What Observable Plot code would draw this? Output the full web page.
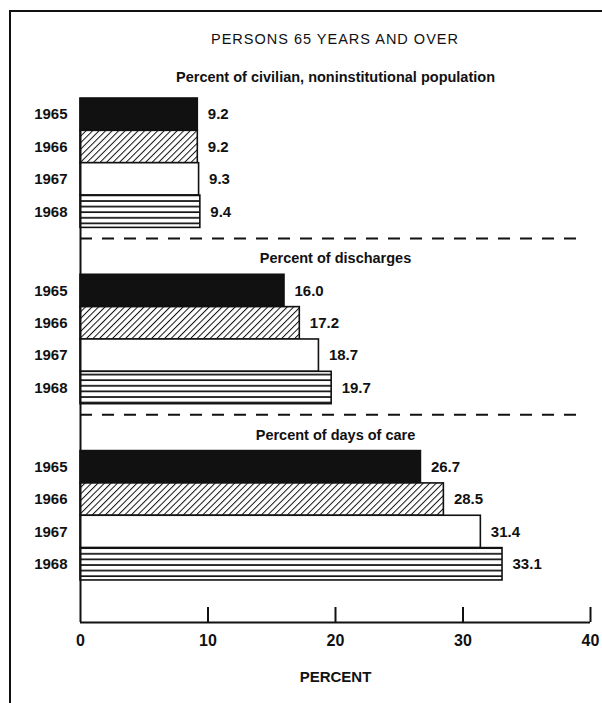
<!DOCTYPE html>
<html>
<head>
<meta charset="utf-8">
<script src="https://cdn.jsdelivr.net/npm/d3@7"></script>
<script src="https://cdn.jsdelivr.net/npm/@observablehq/plot@0.6"></script>
<style>
  html, body { margin: 0; padding: 0; background: #fff; }
  body { width: 602px; height: 703px; overflow: hidden; position: relative; font-family: "Liberation Sans", Arial, sans-serif; }
  #frame { position: absolute; left: 9px; top: 10px; width: 600px; height: 700px; border-left: 2px solid #111; border-top: 2px solid #111; pointer-events: none; }
  #title { position: absolute; left: 0; top: 31px; width: 602px; text-align: center; font-size: 14.5px; font-weight: normal; color: #111; text-indent: 68px; letter-spacing: 1px; }
  #chart { position: absolute; left: 0; top: 60px; }
</style>
</head>
<body>
<div id="frame"></div>
<div id="title">PERSONS 65 YEARS AND OVER</div>
<div id="chart"></div>
<script>
// ---- data ----
const groups = [
  "Percent of civilian, noninstitutional population",
  "Percent of discharges",
  "Percent of days of care"
];
const years = ["1965", "1966", "1967", "1968"];
const civilianValues = [9.2, 9.2, 9.3, 9.4];
const dischargeValues = [16.0, 17.2, 18.7, 19.7];
const daysOfCareValues = [26.7, 28.5, 31.4, 33.1];
const xTicks = [0, 10, 20, 30, 40];
const xLabel = "PERCENT";

// ---- layout helpers (row units) ----
const groupGap = 1.45;
const groupTop = g => g * (years.length + groupGap);
const series = [civilianValues, dischargeValues, daysOfCareValues];
const rows = [];
series.forEach((vals, g) => vals.forEach((v, i) => rows.push({
  group: groups[g], year: years[i], value: v,
  y1: groupTop(g) + i, y2: groupTop(g) + i + 1, yc: groupTop(g) + i + 0.5
})));
const subtitles = groups.map((name, g) => ({name, y: groupTop(g) - (g === 0 ? 0.17 : 0)}));
const separators = [0, 1].map(g => ({y: groupTop(g) + years.length + 0.33}));
const bottom = 16.2;

const W = 602, H = 643, mTop = 38, mBottom = 81;

const plot = Plot.plot({
  width: W, height: H,
  marginLeft: 80, marginRight: 12, marginTop: mTop, marginBottom: mBottom,
  style: {fontFamily: "Liberation Sans, Arial, sans-serif", background: "transparent", color: "#111"},
  x: {domain: [0, 40], ticks: xTicks, tickSize: 0, tickPadding: 12, label: null, tickFormat: d => d},
  y: {domain: [0, bottom], reverse: true, axis: null},
  color: {type: "ordinal", domain: years, range: ["#111", "url(#hatch)", "#fff", "url(#hlines)"]},
  marks: [
    Plot.rectX(rows, {x1: 0, x2: "value", y1: "y1", y2: "y2", fill: "year", stroke: "#111", strokeWidth: 1.6}),
    Plot.text(rows, {x: "value", y: "yc", text: d => d.value.toFixed(1), textAnchor: "start", dx: 10, fontSize: 15, fontWeight: "bold"}),
    Plot.text(rows, {x: 0, y: "yc", text: "year", textAnchor: "end", dx: -13, fontSize: 15, fontWeight: "bold"}),
    Plot.text(subtitles, {y: "y", text: "name", frameAnchor: "middle", dx: 0, dy: -16, fontSize: 14.5, fontWeight: "bold"}),
    Plot.ruleY(separators, {y: "y", x1: 0, x2: 39, stroke: "#111", strokeWidth: 2, strokeDasharray: "12,10"}),
    Plot.ruleX([0], {y1: 0, y2: bottom, stroke: "#111", strokeWidth: 2}),
    Plot.ruleY([bottom], {stroke: "#111", strokeWidth: 2}),
    Plot.ruleX(xTicks.slice(1), {y1: bottom, y2: bottom - 15 / 32.35, stroke: "#111", strokeWidth: 2}),
    Plot.text([xLabel], {text: d => d, frameAnchor: "bottom", dy: 59, fontSize: 15, fontWeight: "bold"})
  ]
});

// pattern definitions
const ns = "http://www.w3.org/2000/svg";
const defs = document.createElementNS(ns, "defs");
defs.innerHTML = `
  <pattern id="hatch" patternUnits="userSpaceOnUse" width="4.6" height="4.6" patternTransform="rotate(45)">
    <rect width="4.6" height="4.6" fill="#fff"/>
    <line x1="0" y1="0" x2="0" y2="4.6" stroke="#111" stroke-width="2"/>
  </pattern>
  <pattern id="hlines" patternUnits="userSpaceOnUse" width="8" height="5.6">
    <rect width="8" height="5.6" fill="#fff"/>
    <line x1="0" y1="1" x2="8" y2="1" stroke="#111" stroke-width="1.7"/>
  </pattern>`;
plot.insertBefore(defs, plot.firstChild);
plot.querySelectorAll("g[aria-label='x-axis tick label'] text, g[aria-label='x-axis'] text").forEach(t => {
  t.setAttribute("font-size", 16); t.setAttribute("font-weight", "bold");
});
const tl = plot.querySelector("g[aria-label='x-axis tick label']");
if (tl) { tl.setAttribute("font-size", 16); tl.setAttribute("font-weight", "bold"); }
document.getElementById("chart").appendChild(plot);
</script>
</body>
</html>
